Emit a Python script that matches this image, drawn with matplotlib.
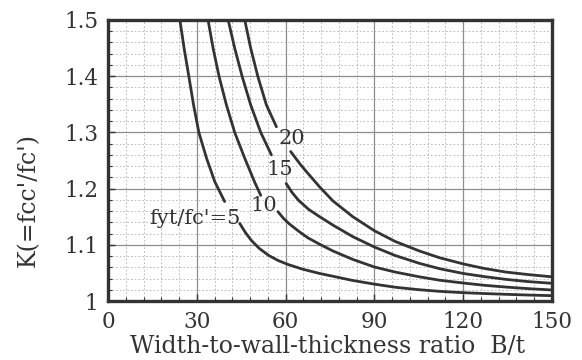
import matplotlib
matplotlib.use("Agg")
import matplotlib.pyplot as plt
from matplotlib.ticker import MultipleLocator, FixedLocator, FixedFormatter

plt.rcParams['font.family'] = ['DejaVu Serif']

# ---- data (B/t vs K), curves broken where labels sit ----
c5_up_x = [24.3, 25.7, 27.3, 28.9, 30.7, 33.3, 36.1, 39.4]
c5_up_k = [1.5, 1.45, 1.4, 1.349, 1.3, 1.254, 1.212, 1.177]
c5_lo_x = [44.5, 46.4, 48.4, 51.0, 54.3, 57.5, 60.8, 65.5, 71.5, 76.0, 82.7, 90.0,
           97.0, 105.2, 112.0, 120.0, 127.0, 134.4, 142.0, 150.0]
c5_lo_k = [1.138, 1.122, 1.108, 1.094, 1.081, 1.072, 1.065, 1.057, 1.049, 1.044, 1.0365, 1.030,
           1.0245, 1.020, 1.0172, 1.0148, 1.0133, 1.0119, 1.0106, 1.0095]

c10_up_x = [33.8, 35.5, 37.5, 40.0, 42.8, 46.2, 49.5, 51.6]
c10_up_k = [1.5, 1.45, 1.4, 1.349, 1.3, 1.254, 1.212, 1.188]
c10_lo_x = [57.4, 59.3, 61.3, 64.7, 67.5, 71.5, 76.0, 82.7, 90.0, 97.0, 105.2, 112.0,
            120.0, 127.0, 134.4, 142.0, 150.0]
c10_lo_k = [1.159, 1.147, 1.137, 1.123, 1.1125, 1.101, 1.089, 1.074, 1.0605, 1.0515, 1.043, 1.037,
            1.032, 1.028, 1.0248, 1.022, 1.0196]

c15_up_x = [40.6, 42.8, 45.3, 48.2, 51.6, 55.2]
c15_up_k = [1.5, 1.45, 1.4, 1.349, 1.3, 1.26]
c15_lo_x = [60.2, 62.2, 64.4, 67.8, 71.5, 76.0, 82.7, 90.0, 97.0, 105.2, 112.0, 120.0,
            127.0, 134.4, 142.0, 150.0]
c15_lo_k = [1.209, 1.193, 1.179, 1.163, 1.150, 1.135, 1.1145, 1.096, 1.081, 1.067, 1.0575, 1.049,
            1.0435, 1.0385, 1.0345, 1.0315]

c20_up_x = [46.2, 48.2, 50.6, 53.5, 56.9]
c20_up_k = [1.5, 1.45, 1.4, 1.349, 1.310]
c20_lo_x = [61.7, 64.7, 66.4, 71.5, 76.0, 82.7, 90.0, 97.0, 105.2, 112.0, 120.0, 127.0,
            134.4, 142.0, 150.0]
c20_lo_k = [1.266, 1.245, 1.234, 1.203, 1.178, 1.150, 1.125, 1.106, 1.089, 1.077, 1.066, 1.058,
            1.0515, 1.047, 1.043]

curve_labels = ["fyt/fc'=5", "10", "15", "20"]
label_x = [29.3, 52.8, 57.9, 62.2]
label_k = [1.146, 1.170, 1.234, 1.289]

x_ticks = [0, 30, 60, 90, 120, 150]
x_tick_labels = ["0", "30", "60", "90", "120", "150"]
y_ticks = [1.0, 1.1, 1.2, 1.3, 1.4, 1.5]
y_tick_labels = ["1", "1.1", "1.2", "1.3", "1.4", "1.5"]

x_label = "Width-to-wall-thickness ratio  B/t"
y_label = "K(=fcc'/fc')"

# ---- figure ----
ink = '#333333'
fig = plt.figure(figsize=(5.82, 3.60), dpi=100)
fig.patch.set_facecolor('white')
ax = fig.add_axes([108 / 582, 1 - 301 / 360, 444 / 582, 281 / 360])

ax.set_xlim(0, 150)
ax.set_ylim(1.0, 1.5)

ax.xaxis.set_major_locator(FixedLocator(x_ticks))
ax.xaxis.set_major_formatter(FixedFormatter(x_tick_labels))
ax.yaxis.set_major_locator(FixedLocator(y_ticks))
ax.yaxis.set_major_formatter(FixedFormatter(y_tick_labels))
ax.xaxis.set_minor_locator(MultipleLocator(6))
ax.yaxis.set_minor_locator(MultipleLocator(0.02))

ax.grid(which='major', color='#8e8e8e', linewidth=0.9, linestyle='-')
ax.grid(which='minor', color='#b0b0b0', linewidth=0.6, linestyle=(0, (2.0, 2.5)))
ax.set_axisbelow(True)

ax.tick_params(which='both', direction='in', colors=ink, labelcolor=ink,
               top=False, right=False)
ax.tick_params(which='major', length=5, width=1.0, labelsize=15.5, pad=7)
ax.tick_params(which='minor', length=3, width=0.8)

for s in ax.spines.values():
    s.set_linewidth(2.4)
    s.set_color(ink)

segments = [(c5_up_x, c5_up_k), (c5_lo_x, c5_lo_k),
            (c10_up_x, c10_up_k), (c10_lo_x, c10_lo_k),
            (c15_up_x, c15_up_k), (c15_lo_x, c15_lo_k),
            (c20_up_x, c20_up_k), (c20_lo_x, c20_lo_k)]
for xs, ks in segments:
    ax.plot(xs, ks, color=ink, linewidth=2.0, solid_capstyle='round',
            solid_joinstyle='round', clip_on=True)

for t, lx, lk in zip(curve_labels, label_x, label_k):
    ax.text(lx, lk, t, ha='center', va='center', fontsize=15, color=ink)

ax.set_xlabel(x_label, fontsize=17, color=ink)
ax.xaxis.set_label_coords(0.495, -0.185)
ax.xaxis.label.set_va('baseline')
ax.set_ylabel(y_label, fontsize=17, color=ink)
ax.yaxis.set_label_coords(-0.18, 0.36)
ax.yaxis.label.set_va('center')

fig.savefig('out.png', dpi=100, facecolor='white')
